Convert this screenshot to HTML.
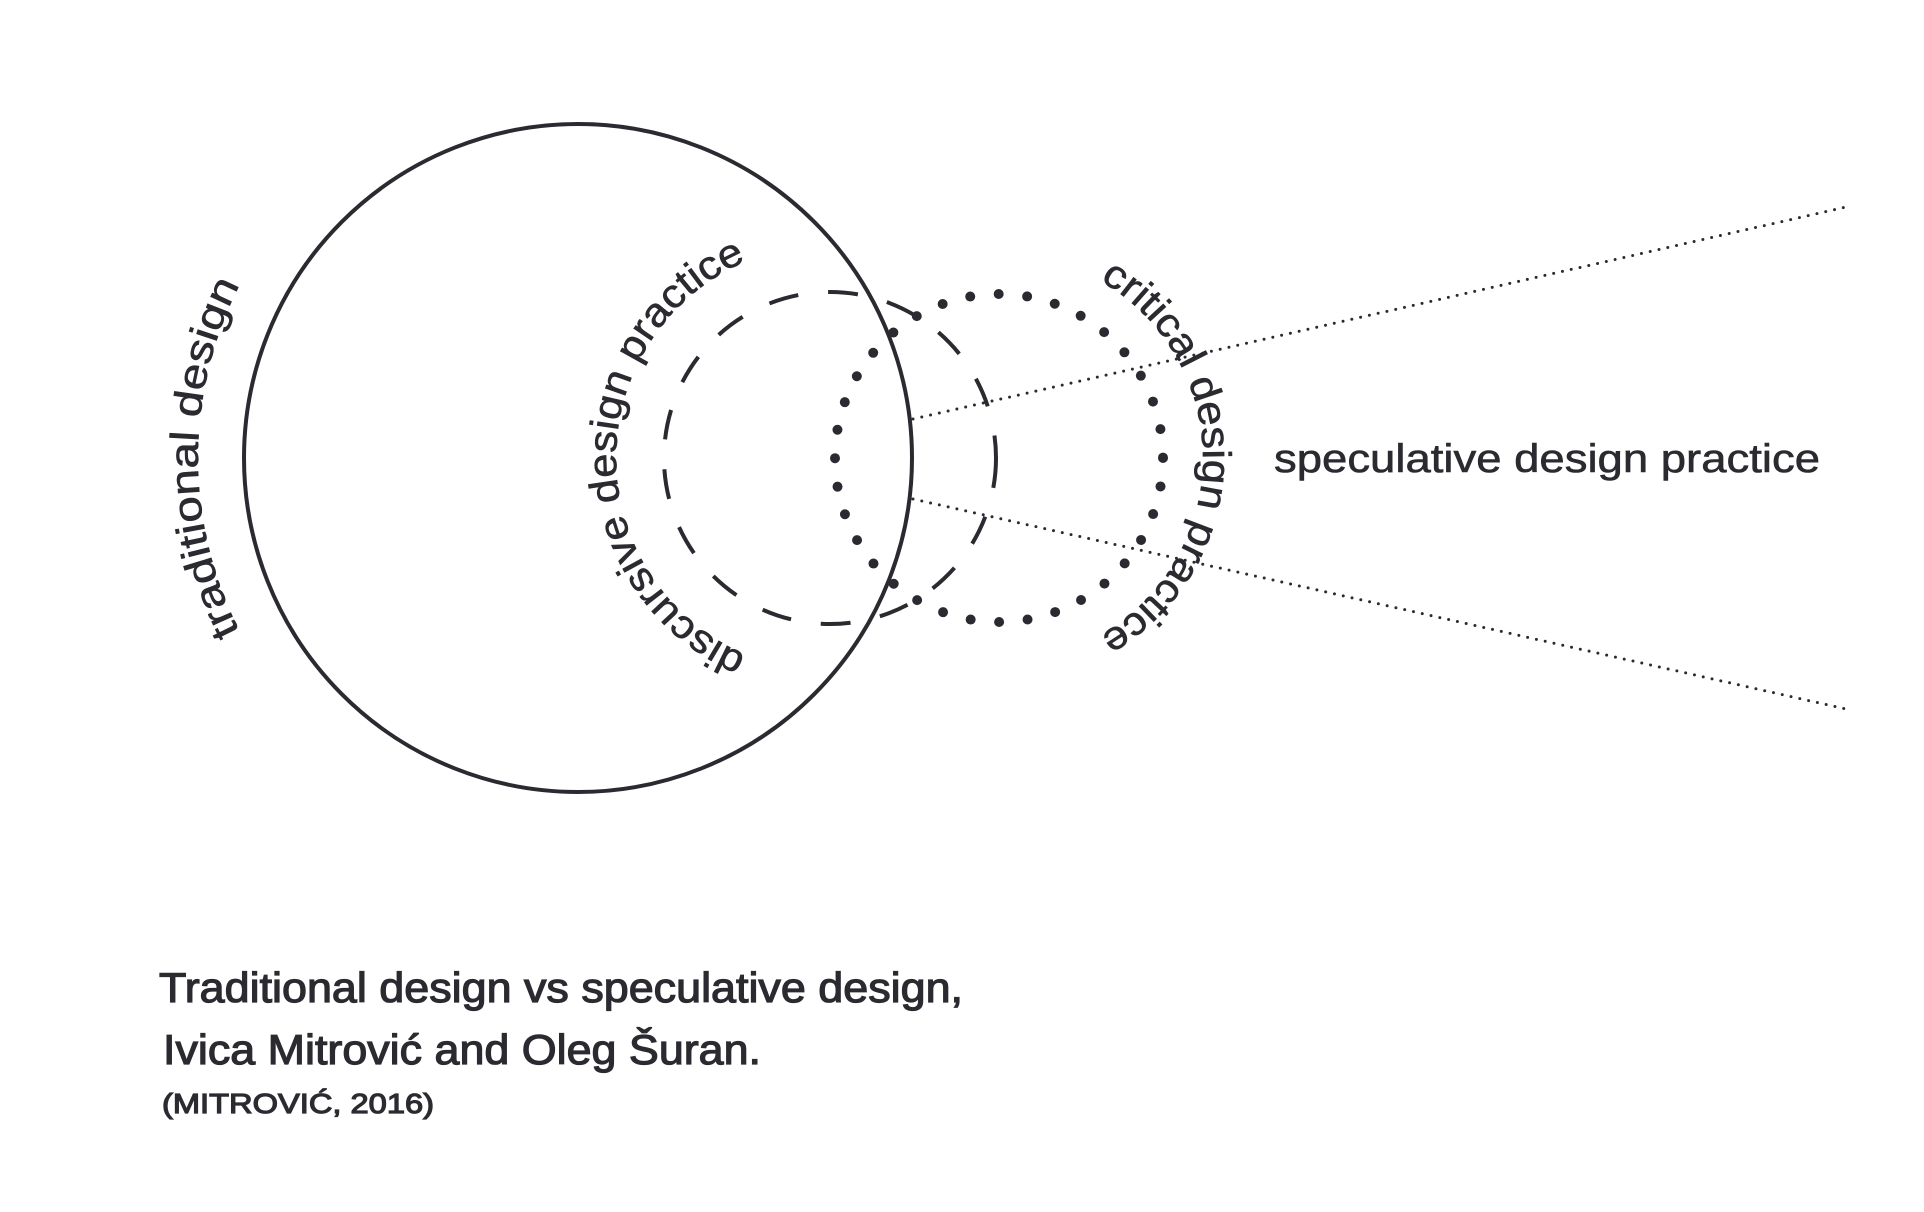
<!DOCTYPE html>
<html><head><meta charset="utf-8"><style>html,body{margin:0;padding:0;background:#fff;}svg{display:block}</style></head>
<body>
<svg width="1924" height="1212" viewBox="0 0 1924 1212" xmlns="http://www.w3.org/2000/svg" font-family="Liberation Sans, sans-serif" fill="#2b2a30">
<defs>
<path id="pT" d="M 578 838 A 380 380 0 0 1 578 78 A 380 380 0 0 1 578 838"/>
<path id="pD" d="M 830 672 A 214 214 0 0 1 830 244 A 214 214 0 0 1 830 672"/>
<path id="pC" d="M 999 254 A 204 204 0 0 1 999 662 A 204 204 0 0 1 999 254"/>
</defs>
<circle cx="578" cy="458" r="334" fill="none" stroke="#2b2a30" stroke-width="4"/>
<circle cx="830" cy="458" r="166" fill="none" stroke="#2b2a30" stroke-width="4" stroke-dasharray="30 30"/>
<circle cx="999" cy="458" r="164" fill="none" stroke="#2b2a30" stroke-width="10" stroke-linecap="round" stroke-dasharray="0 28.6"/>
<line x1="913" y1="419" x2="1846" y2="207" stroke="#2b2a30" stroke-width="3" stroke-linecap="round" stroke-dasharray="0 9"/>
<line x1="913" y1="499" x2="1846" y2="709" stroke="#2b2a30" stroke-width="3" stroke-linecap="round" stroke-dasharray="0 9"/>
<g stroke="#2b2a30" stroke-width="0.6">
<text font-size="40" text-anchor="middle"><textPath href="#pT" startOffset="25%" textLength="360" lengthAdjust="spacingAndGlyphs">traditional design</textPath></text>
<text font-size="40" text-anchor="middle"><textPath href="#pD" startOffset="25%" textLength="500" lengthAdjust="spacingAndGlyphs">discursive design practice</textPath></text>
<text font-size="40" text-anchor="middle"><textPath href="#pC" startOffset="25%" textLength="430" lengthAdjust="spacingAndGlyphs">critical design practice</textPath></text>
<text x="1274" y="472" font-size="40" textLength="546" lengthAdjust="spacingAndGlyphs">speculative design practice</text>
</g>
<g stroke="#2b2a30" stroke-width="1.2">
<text x="159" y="1002" font-size="42" textLength="804" lengthAdjust="spacingAndGlyphs">Traditional design vs speculative design,</text>
<text x="163" y="1064" font-size="42" textLength="598" lengthAdjust="spacingAndGlyphs">Ivica Mitrović and Oleg Šuran.</text>
<text x="162" y="1113" font-size="28" textLength="272" lengthAdjust="spacingAndGlyphs">(MITROVIĆ, 2016)</text>
</g>
</svg>
</body></html>
